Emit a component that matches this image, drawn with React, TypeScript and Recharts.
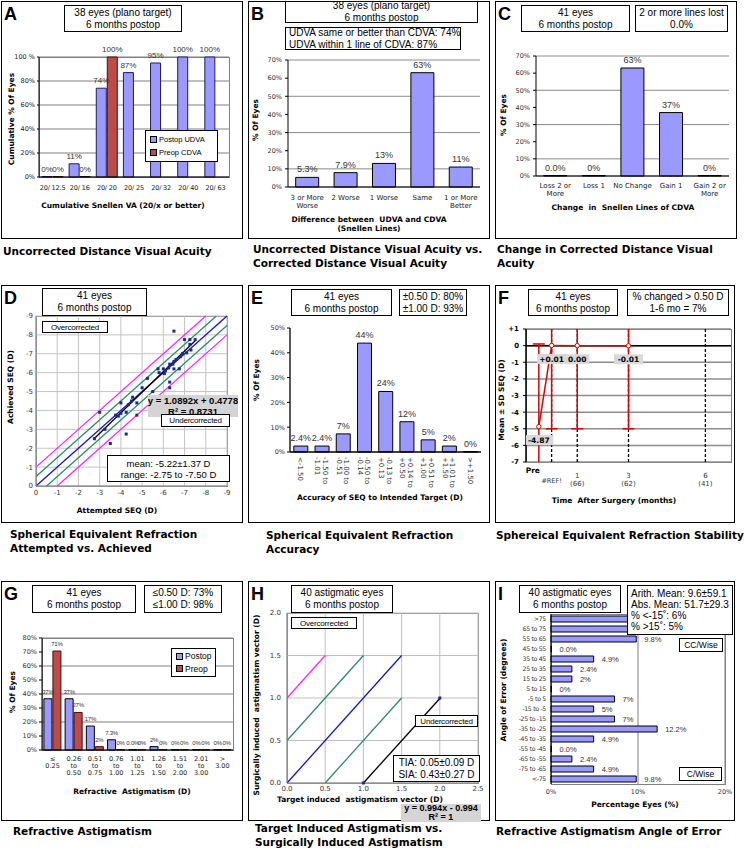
import React from 'react';
import {
  BarChart, Bar, XAxis, YAxis, CartesianGrid, LabelList,
  ScatterChart, Scatter, ReferenceLine, ComposedChart, Line, ErrorBar,
} from 'recharts';

const FONT_SANS = '"Liberation Sans", Arial, Helvetica, sans-serif';
const FONT_V = '"DejaVu Sans", Verdana, sans-serif';
const BLUE = '#9999FF';
const RED = '#BE4B48';
const GREEN = '#2E8B6A';
const MAGENTA = '#FF22FF';
const DIAG_BLUE = '#1414D2';
const SERIES_RED = '#E00000';

/* ---------------- DATA ---------------- */
// A: cumulative Snellen VA
const aCategories = ['20/ 12.5', '20/ 16', '20/ 20', '20/ 25', '20/ 32', '20/ 40', '20/ 63'];
const aPostopUdva = [0, 11, 74, 87, 95, 100, 100];
const aPreopCdva: (number | null)[] = [0, 0, 100, null, null, null, null];
const aPostopLabels = ['0%', '11%', '74%', '87%', '95%', '100%', '100%'];
const aPreopLabels = ['0%', '0%', '100%', '', '', '', ''];
const aYTicks = [0, 20, 40, 60, 80, 100];

// B: UDVA vs CDVA
const bCategories = ['3 or More\nWorse', '2 Worse', '1 Worse', 'Same', '1 or More\nBetter'];
const bValues = [5.3, 7.9, 13, 63, 11];
const bLabels = ['5.3%', '7.9%', '13%', '63%', '11%'];
const yTicks70 = [0, 10, 20, 30, 40, 50, 60, 70];

// C: change in CDVA
const cCategories = ['Loss 2 or\nMore', 'Loss 1', 'No Change', 'Gain 1', 'Gain 2 or\nMore'];
const cValues = [0, 0, 63, 37, 0];
const cLabels = ['0.0%', '0%', '63%', '37%', '0%'];

// D: attempted vs achieved SEQ
const dAttempted = [-2.75, -3.0, -3.25, -3.5, -3.75, -3.88, -4.0, -4.0, -4.25, -4.25, -4.35, -4.5, -4.55, -4.75, -4.75, -5.0, -5.25, -5.5, -5.75, -5.8, -6.0, -6.05, -6.1, -6.25, -6.3, -6.3, -6.3, -6.45, -6.5, -6.5, -6.5, -6.6, -6.75, -6.8, -6.9, -7.0, -7.1, -7.25, -7.25, -7.3, -7.5];
const dAchieved = [-2.5, -3.9, -3.0, -2.25, -3.75, -3.7, -4.4, -3.85, -3.9, -2.75, -4.3, -4.5, -4.7, -4.4, -3.75, -5.2, -5.7, -5.0, -6.2, -6.0, -6.2, -5.95, -6.1, -6.25, -6.45, -5.5, -5.2, -6.45, -6.6, -6.2, -8.2, -6.7, -6.2, -6.85, -7.0, -7.75, -7.05, -7.5, -7.75, -7.2, -7.75];
const dTicks = [0, -1, -2, -3, -4, -5, -6, -7, -8, -9];
const dIdentity = [[0, 0], [-9, -9]];
const dGreenLines = [[[0, -0.5], [-8.5, -9]], [[-0.5, 0], [-9, -8.5]]];
const dMagentaLines = [[[0, -1], [-8, -9]], [[-1, 0], [-9, -8]]];
const dFitSlope = 1.0892;
const dFitIntercept = 0.4778;
const dFitRange = [-2.75, -7.5];

// E: SEQ accuracy
const eCategories = ['<-1.50', '-1.50 to\n-1.01', '-1.00 to\n-0.51', '-0.50 to\n-0.14', '-0.13 to\n+0.13', '+0.14 to\n+0.50', '+0.51 to\n+1.00', '+1.01 to\n+1.50', '>+1.50'];
const eValues = [2.4, 2.4, 7.3, 43.9, 24.4, 12.2, 4.9, 2.4, 0];
const eLabels = ['2.4%', '2.4%', '7%', '44%', '24%', '12%', '5%', '2%', '0%'];
const eYTicks = [0, 10, 20, 30, 40, 50];

// F: SEQ stability
const fTimes = [-0.5, 0, 1, 3];
const fMeans = [-4.87, 0.01, 0.0, -0.01];
const fSDs = [4.97, 5.01, 5.0, 4.99];
const fLabels = ['-4.87', '+0.01', '0.00', '-0.01'];
const fTickValues = [-0.5, 0, 1, 3, 6];
const fTickLabels = ['Pre', '#REF!', '1\n(66)', '3\n(62)', '6\n(41)'];
const fYTicks = [1, 0, -1, -2, -3, -4, -5, -6, -7];
const fDashedMonths = [0, 1, 3, 6];

// G: refractive astigmatism
const gCategories = ['≤\n0.25', '0.26\nto\n0.50', '0.51\nto\n0.75', '0.76\nto\n1.00', '1.01\nto\n1.25', '1.26\nto\n1.50', '1.51\nto\n2.00', '2.01\nto\n3.00', '>\n3.00'];
const gPostop = [36.6, 36.6, 17.1, 7.3, 0, 2.4, 0, 0, 0];
const gPreop = [70.7, 26.8, 2.4, 0, 0, 0, 0, 0, 0];
const gPostopLabels = ['37%', '37%', '17%', '7.3%', '0.0%', '2%', '0%', '0%', '0%'];
const gPreopLabels = ['71%', '27%', '2%', '0%', '0%', '0%', '0%', '0%', '0%'];
const gYTicks = [0, 10, 20, 30, 40, 50, 60, 70, 80];

// H: TIA vs SIA
const hPoints = [{ x: 1.0, y: 0.0 }, { x: 2.0, y: 1.0 }];
const hXTicks = [0, 0.5, 1, 1.5, 2, 2.5];
const hYTicks = [0, 0.5, 1, 1.5, 2];
const hIdentity = [[0, 0], [1.5, 1.5]];
const hGreenLines = [[[0, 0.5], [1, 1.5]], [[0.5, 0], [1.5, 1.0]]];
const hMagentaLine = [[0, 1], [0.5, 1.5]];
const hFitSlope = 0.994;
const hFitIntercept = -0.994;
const hFitRange = [1.0, 2.0];

// I: angle of error (labels of the two top rows are hidden by the stats box in the original)
const iCategories = ['>75', '65 to 75', '55 to 65', '45 to 55', '35 to 45', '25 to 35', '15 to 25', '5 to 15', '-5 to 5', '-15 to -5', '-25 to -15', '-35 to -25', '-45 to -35', '-55 to -45', '-65 to -55', '-75 to -65', '<-75'];
const iValues = [14.6, 12.2, 9.8, 0, 4.9, 2.4, 2.4, 0, 7.3, 4.9, 7.3, 12.2, 4.9, 0, 2.4, 4.9, 9.8];
const iLabels = ['', '', '9.8%', '0.0%', '4.9%', '2.4%', '2%', '0%', '7%', '5%', '7%', '12.2%', '4.9%', '0.0%', '2.4%', '4.9%', '9.8%'];
const iXTicks = [0, 10, 20];

/* ---------------- TABLES ---------------- */
const aData = aCategories.map((cat, i) => ({ cat, udva: aPostopUdva[i], cdva: aPreopCdva[i], ul: aPostopLabels[i], cl: aPreopLabels[i] }));
const bData = bCategories.map((cat, i) => ({ cat, v: bValues[i], l: bLabels[i] }));
const cData = cCategories.map((cat, i) => ({ cat, v: cValues[i], l: cLabels[i] }));
const dData = dAttempted.map((x, i) => ({ x, y: dAchieved[i] }));
const eData = eCategories.map((cat, i) => ({ cat, v: eValues[i], l: eLabels[i] }));
const fData = fTimes.map((t, i) => ({ t, mean: fMeans[i], sd: fSDs[i], l: fLabels[i] }));
const gData = gCategories.map((cat, i) => ({ cat, post: gPostop[i], pre: gPreop[i], pl: gPostopLabels[i], rl: gPreopLabels[i] }));
const iData = iCategories.map((cat, i) => ({ cat, v: iValues[i], l: iLabels[i] }));

const seg = (pts: number[][]) => [{ x: pts[0][0], y: pts[0][1] }, { x: pts[1][0], y: pts[1][1] }];
const fitSeg = (range: number[], m: number, b: number) => [{ x: range[0], y: m * range[0] + b }, { x: range[1], y: m * range[1] + b }];

/* ---------------- LAYOUT HELPERS ---------------- */
type Rect = { x: number; y: number; w: number; h: number };
const M = { top: 18, right: 16, bottom: 6, left: 6 };
function frame(p: Rect, yw: number, xh: number) {
  return { left: p.x - yw - M.left, top: p.y - M.top, width: p.w + yw + M.left + M.right, height: p.h + M.top + M.bottom + xh };
}
function At({ f, children, z = 2 }: { f: { left: number; top: number; width: number; height: number }; children: React.ReactNode; z?: number }) {
  return <div style={{ position: 'absolute', left: f.left, top: f.top, width: f.width, height: f.height, zIndex: z }}>{children}</div>;
}
function PlotFrame({ p, color = '#808080' }: { p: Rect; color?: string }) {
  return <div style={{ position: 'absolute', left: p.x, top: p.y, width: p.w + 1, height: p.h + 1, border: `1px solid ${color}`, boxSizing: 'border-box', zIndex: 1 }} />;
}

function vb(p: any) {
  const v = p.viewBox || {};
  return { x: Number(p.x ?? v.x ?? 0), y: Number(p.y ?? v.y ?? 0), w: Number(p.width ?? v.width ?? 0), h: Number(p.height ?? v.height ?? 0) };
}
const topLabel = (size: number, dy: number, spacing = 0) => (p: any) => {
  if (p.value === '' || p.value == null) return null;
  const b = vb(p);
  return <text x={b.x + b.w / 2} y={b.y + dy} textAnchor="middle" fontSize={size} fill="#333" letterSpacing={spacing} fontFamily={FONT_SANS}>{p.value}</text>;
};
const rightLabel = (p: any) => {
  if (p.value === '' || p.value == null) return null;
  const b = vb(p);
  return <text x={b.x + b.w + 8} y={b.y + b.h / 2 + 3} fontSize={7.5} fill="#333" fontFamily={FONT_SANS}>{p.value}</text>;
};
const multiTick = (size: number, lh: number, firstDy: number, weight = 400, spacing = 0) => (p: any) => {
  const { x, y, payload } = p;
  const lines = String(payload.value).split('\n');
  return (
    <text x={x} y={y + firstDy} textAnchor="middle" fontSize={size} fill="#222" fontWeight={weight} letterSpacing={spacing} fontFamily={FONT_V}>
      {lines.map((s, i) => <tspan key={i} x={x} dy={i === 0 ? 0 : lh}>{s}</tspan>)}
    </text>
  );
};
const eTick = (p: any) => {
  const { x, y, payload } = p;
  const lines = String(payload.value).split('\n');
  const base = lines.length === 1 ? 2.5 : -1;
  return (
    <g transform={`translate(${x},${y})`}>
      <text transform="rotate(90)" fontSize={7} fill="#333" fontFamily={FONT_V}>
        {lines.map((s, i) => <tspan key={i} x={0} y={base + i * 7.5}>{s}</tspan>)}
      </text>
    </g>
  );
};
const iTick = (p: any) => (
  <text x={p.x} y={p.y + 2.3} textAnchor="end" fontSize={6.2} fill="#333" fontFamily={FONT_V} letterSpacing={-0.3}>{p.payload.value}</text>
);
const fTick = (p: any) => {
  const { x, y, payload } = p;
  const idx = fTickValues.indexOf(payload.value);
  const label = idx >= 0 ? fTickLabels[idx] : '';
  if (idx === 0) return <text x={x - 6} y={y + 10.5} textAnchor="middle" fontSize={7.5} fontWeight={700} fill="#000" fontFamily={FONT_V}>{label}</text>;
  if (idx === 1) return <text x={x} y={y + 20.5} textAnchor="middle" fontSize={6.5} fill="#333" fontFamily={FONT_V}>{label}</text>;
  const lines = label.split('\n');
  return (
    <text x={x} y={y + 16} textAnchor="middle" fontSize={7} fill="#333" fontFamily={FONT_V}>
      {lines.map((s, i) => <tspan key={i} x={x} dy={i === 0 ? 0 : 7.5}>{s}</tspan>)}
    </text>
  );
};
const fLabel = (p: any) => {
  const b = vb(p);
  const s = String(p.value);
  const w = s.length * 4.8 + 5;
  return (
    <g>
      <rect x={b.x - w / 2} y={b.y + 8.5} width={w} height={10} fill="#D9D9D9" />
      <text x={b.x} y={b.y + 16.5} textAnchor="middle" fontSize={7.5} fontWeight={700} fill="#000" fontFamily={FONT_V}>{s}</text>
    </g>
  );
};
const smallSquare = (color: string) => (p: any) => <rect x={p.cx - 1.5} y={p.cy - 1.5} width={3} height={3} fill={color} />;
const tk = (size = 7, fill = '#333', weight = 400) => ({ fontSize: size, fill, fontFamily: FONT_V, fontWeight: weight });

function Box(props: { l: number; t: number; r: number; b: number; lines: string[]; size?: number; align?: 'center' | 'left'; bold?: boolean; bg?: string; border?: string; lh?: number; pad?: number; spacing?: number }) {
  const { l, t, r, b, lines, size = 10, align = 'center', bold = false, bg = '#fff', border = '1.5px solid #000', lh, pad = 3, spacing = 0 } = props;
  return (
    <div style={{ position: 'absolute', left: l, top: t, width: r - l, height: b - t, boxSizing: 'border-box', border, background: bg, display: 'flex', flexDirection: 'column', justifyContent: 'center', alignItems: align === 'center' ? 'center' : 'flex-start', paddingLeft: pad, paddingRight: pad, fontFamily: FONT_SANS, fontSize: size, fontWeight: bold ? 700 : 400, lineHeight: `${lh ?? Math.round(size * 1.15)}px`, whiteSpace: 'nowrap', letterSpacing: spacing, color: '#000', zIndex: 5, overflow: 'hidden' }}>
      {lines.map((s, i) => <div key={i}>{s}</div>)}
    </div>
  );
}
function LegendBox({ l, t, r, b, items, size }: { l: number; t: number; r: number; b: number; items: { label: string; color: string }[]; size: number }) {
  return (
    <div style={{ position: 'absolute', left: l, top: t, width: r - l, height: b - t, boxSizing: 'border-box', border: '1.5px solid #000', background: '#fff', display: 'flex', flexDirection: 'column', justifyContent: 'space-evenly', paddingLeft: 4, fontFamily: FONT_SANS, fontSize: size, zIndex: 5 }}>
      {items.map((it) => (
        <div key={it.label} style={{ display: 'flex', alignItems: 'center', whiteSpace: 'nowrap' }}>
          <span style={{ display: 'inline-block', width: 5, height: 5, background: it.color, border: '1px solid #000', marginRight: 2 }} />
          {it.label}
        </div>
      ))}
    </div>
  );
}
function Title({ cx, cy, text, size = 7.5, rotate = false }: { cx: number; cy: number; text: string; size?: number; rotate?: boolean }) {
  return (
    <div style={{ position: 'absolute', left: cx, top: cy, transform: `translate(-50%,-50%)${rotate ? ' rotate(-90deg)' : ''}`, fontFamily: FONT_V, fontWeight: 700, fontSize: size, whiteSpace: 'pre', lineHeight: `${size + 1.5}px`, textAlign: 'center', zIndex: 4, color: '#000' }}>{text}</div>
  );
}
function Caption({ x, y, lines }: { x: number; y: number; lines: string[] }) {
  return (
    <div style={{ position: 'absolute', left: x, top: y - 7, fontFamily: FONT_V, fontWeight: 700, fontSize: 10.5, lineHeight: '13.5px', whiteSpace: 'nowrap', color: '#000' }}>
      {lines.map((s, i) => <div key={i}>{s}</div>)}
    </div>
  );
}
function Panel({ l, t, w, h, letter }: { l: number; t: number; w: number; h: number; letter: string }) {
  return (
    <>
      <div style={{ position: 'absolute', left: l, top: t, width: w, height: h, border: '1.5px solid #000', boxSizing: 'border-box' }} />
      <div style={{ position: 'absolute', left: l + 3, top: t + 3.5, fontFamily: FONT_SANS, fontWeight: 700, fontSize: 18, lineHeight: '18px', zIndex: 6 }}>{letter}</div>
    </>
  );
}

/* ---------------- CHARTS ---------------- */
const aPlot = { x: 39, y: 57, w: 190, h: 120 };
const bPlot = { x: 288, y: 60, w: 192, h: 127 };
const cPlot = { x: 536, y: 56, w: 193, h: 120 };
const dPlot = { x: 36, y: 316, w: 191, h: 170 };
const ePlot = { x: 290, y: 328, w: 191, h: 124 };
const fPlot = { x: 526, y: 329, w: 205, h: 133 };
const gPlot = { x: 42, y: 638, w: 191, h: 112 };
const hPlot = { x: 287, y: 613, w: 191, h: 170 };
const iPlot = { x: 551, y: 614, w: 174, h: 170 };

function ChartA() {
  const f = frame(aPlot, 28, 20);
  return (
    <At f={f}>
      <BarChart width={f.width} height={f.height} margin={M} data={aData} barCategoryGap="11%" barGap={1}>
        <CartesianGrid vertical={false} stroke="#808080" />
        <XAxis dataKey="cat" height={20} interval={0} tick={multiTick(6.5, 8, 7.5, 400, -0.15)} axisLine={{ stroke: '#000' }} tickLine={false} tickSize={3} tickMargin={2} />
        <YAxis width={28} domain={[0, 100]} ticks={aYTicks} tickFormatter={(v: number) => (v === 100 ? '100\u00a0%' : `${v}%`)} tick={tk(6.5, '#222', 400)} axisLine={{ stroke: '#000' }} tickLine={{ stroke: '#000' }} tickSize={2} tickMargin={2} />
        <Bar dataKey="udva" fill={BLUE} stroke="#1E1E5A" strokeWidth={1} minPointSize={0.5} isAnimationActive={false}>
          <LabelList dataKey="ul" content={topLabel(8, -5)} />
        </Bar>
        <Bar dataKey="cdva" fill={RED} stroke="#3A1414" strokeWidth={1} minPointSize={0.5} isAnimationActive={false}>
          <LabelList dataKey="cl" content={topLabel(8, -5)} />
        </Bar>
      </BarChart>
    </At>
  );
}

function SimpleBars({ plot, data, gap, yTicks, firstDy, lh }: { plot: Rect; data: any[]; gap: string; yTicks: number[]; firstDy: number; lh: number }) {
  const f = frame(plot, 28, 26);
  return (
    <At f={f}>
      <BarChart width={f.width} height={f.height} margin={M} data={data} barCategoryGap={gap}>
        <CartesianGrid vertical={false} stroke="#8C8C8C" />
        <XAxis dataKey="cat" height={26} interval={0} tick={multiTick(7, lh, firstDy)} axisLine={{ stroke: '#000' }} tickLine={false} tickSize={3} tickMargin={2} />
        <YAxis width={28} domain={[0, yTicks[yTicks.length - 1]]} ticks={yTicks} tickFormatter={(v: number) => `${v}%`} tick={tk(6.5)} axisLine={{ stroke: '#000' }} tickLine={{ stroke: '#000' }} tickSize={3} tickMargin={3} />
        <Bar dataKey="v" fill={BLUE} stroke="#000" strokeWidth={1} minPointSize={0.5} isAnimationActive={false}>
          <LabelList dataKey="l" content={topLabel(9, -5)} />
        </Bar>
      </BarChart>
    </At>
  );
}

function ChartD() {
  const f = frame(dPlot, 22, 14);
  return (
    <At f={f}>
      <ScatterChart width={f.width} height={f.height} margin={M}>
        <CartesianGrid stroke="#C4C4C4" />
        <XAxis type="number" dataKey="x" domain={[-9, 0]} reversed ticks={dTicks} interval={0} height={14} tick={tk(7)} axisLine={{ stroke: '#808080' }} tickLine={false} tickSize={2} tickMargin={2} />
        <YAxis type="number" dataKey="y" domain={[-9, 0]} reversed ticks={dTicks} interval={0} width={22} tick={tk(7)} axisLine={{ stroke: '#808080' }} tickLine={false} tickSize={1} tickMargin={2} />
        {dMagentaLines.map((l, i) => <ReferenceLine key={`m${i}`} segment={seg(l)} stroke={MAGENTA} strokeWidth={1.3} />)}
        {dGreenLines.map((l, i) => <ReferenceLine key={`g${i}`} segment={seg(l)} stroke={GREEN} strokeWidth={1.3} />)}
        <ReferenceLine segment={seg(dIdentity)} stroke={DIAG_BLUE} strokeWidth={1.3} />
        <ReferenceLine segment={fitSeg(dFitRange, dFitSlope, dFitIntercept)} stroke="#000" strokeWidth={1.3} />
        <Scatter data={dData} shape={smallSquare('#1A2A8A')} isAnimationActive={false} />
      </ScatterChart>
    </At>
  );
}

function ChartE() {
  const f = frame(ePlot, 28, 30);
  return (
    <At f={f}>
      <BarChart width={f.width} height={f.height} margin={M} data={eData} barCategoryGap="18%">
        <XAxis dataKey="cat" height={30} interval={0} tick={eTick} axisLine={{ stroke: '#000', strokeWidth: 1.3 }} tickLine={false} tickSize={3} tickMargin={2} />
        <YAxis width={28} domain={[0, 50]} ticks={eYTicks} tickFormatter={(v: number) => `${v}%`} tick={tk(6.5)} axisLine={{ stroke: '#000', strokeWidth: 1.3 }} tickLine={{ stroke: '#000' }} tickSize={3} tickMargin={2} />
        <Bar dataKey="v" fill={BLUE} stroke="#000" strokeWidth={1} minPointSize={0.5} isAnimationActive={false}>
          <LabelList dataKey="l" content={topLabel(9, -5)} />
        </Bar>
      </BarChart>
    </At>
  );
}

function ChartF() {
  const f = frame(fPlot, 26, 34);
  return (
    <>
      <At f={f}>
        <ComposedChart width={f.width} height={f.height} margin={M} data={fData}>
          <CartesianGrid vertical={false} stroke="#8C8C8C" strokeWidth={1.5} />
          <XAxis type="number" dataKey="t" domain={[-1, 7]} ticks={fTickValues} interval={0} height={34} tick={fTick} axisLine={false} tickLine={false} tickSize={0} tickMargin={0} allowDataOverflow />
          <YAxis type="number" domain={[-7, 1]} ticks={fYTicks} interval={0} width={26} allowDataOverflow tickFormatter={(v: number) => (v > 0 ? `+${v}` : `${v}`)} tick={tk(7, '#000', 700)} axisLine={{ stroke: '#000', strokeWidth: 1.5 }} tickLine={{ stroke: '#000' }} tickSize={3} tickMargin={4} />
          {fDashedMonths.map((m) => <ReferenceLine key={m} x={m} stroke="#000" strokeDasharray="3 2" strokeWidth={1.3} />)}
          <ReferenceLine y={0} stroke="#000" strokeWidth={1.5} />
        </ComposedChart>
      </At>
      {/* the series layer, clipped to the plot area like the original */}
      <div style={{ position: 'absolute', left: fPlot.x, top: fPlot.y, width: fPlot.w, height: fPlot.h, overflow: 'hidden', zIndex: 3 }}>
        <div style={{ position: 'absolute', left: f.left - fPlot.x, top: f.top - fPlot.y, width: f.width, height: f.height }}>
          <ComposedChart width={f.width} height={f.height} margin={M} data={fData}>
            <XAxis type="number" dataKey="t" domain={[-1, 7]} ticks={fTickValues} height={34} tick={false} axisLine={false} tickLine={false} allowDataOverflow />
            <YAxis type="number" domain={[-7, 1]} ticks={fYTicks} width={26} tick={false} axisLine={false} tickLine={false} allowDataOverflow />
            <Line dataKey="mean" stroke={SERIES_RED} strokeWidth={1.5} isAnimationActive={false} dot={{ r: 2.2, stroke: SERIES_RED, strokeWidth: 1, fill: '#fff' }}>
              <ErrorBar dataKey="sd" width={6} stroke={SERIES_RED} strokeWidth={1.5} direction="y" isAnimationActive={false} />
              <LabelList dataKey="l" content={fLabel} />
            </Line>
          </ComposedChart>
        </div>
      </div>
    </>
  );
}

function ChartG() {
  const f = frame(gPlot, 28, 30);
  return (
    <At f={f}>
      <BarChart width={f.width} height={f.height} margin={M} data={gData} barCategoryGap="9%" barGap={1}>
        <CartesianGrid vertical={false} stroke="#808080" />
        <XAxis dataKey="cat" height={30} interval={0} tick={multiTick(6.5, 7, 5.5)} axisLine={{ stroke: '#000' }} tickLine={false} tickSize={3} tickMargin={2} />
        <YAxis width={28} domain={[0, 80]} ticks={gYTicks} tickFormatter={(v: number) => `${v}%`} tick={tk(6.5)} axisLine={{ stroke: '#000' }} tickLine={{ stroke: '#000' }} tickSize={3} tickMargin={2} />
        <Bar dataKey="post" fill={BLUE} stroke="#000" strokeWidth={1} minPointSize={0.5} isAnimationActive={false}>
          <LabelList dataKey="pl" content={topLabel(6, -5, -0.2)} />
        </Bar>
        <Bar dataKey="pre" fill={RED} stroke="#3A1414" strokeWidth={1} minPointSize={0.5} isAnimationActive={false}>
          <LabelList dataKey="rl" content={topLabel(6, -5, -0.2)} />
        </Bar>
      </BarChart>
    </At>
  );
}

function ChartH() {
  const f = frame(hPlot, 26, 16);
  return (
    <At f={f}>
      <ScatterChart width={f.width} height={f.height} margin={M}>
        <CartesianGrid stroke="#BFBFBF" />
        <XAxis type="number" dataKey="x" domain={[0, 2.5]} ticks={hXTicks} interval={0} height={16} tickFormatter={(v: number) => v.toFixed(1)} tick={tk(7)} axisLine={{ stroke: '#808080' }} tickLine={false} tickSize={0} tickMargin={3} />
        <YAxis type="number" dataKey="y" domain={[0, 2]} ticks={hYTicks} interval={0} width={26} tickFormatter={(v: number) => v.toFixed(1)} tick={tk(7)} axisLine={{ stroke: '#808080' }} tickLine={false} tickSize={0} tickMargin={6} />
        <ReferenceLine segment={seg(hMagentaLine)} stroke={MAGENTA} strokeWidth={1.3} />
        {hGreenLines.map((l, i) => <ReferenceLine key={`g${i}`} segment={seg(l)} stroke={GREEN} strokeWidth={1.3} />)}
        <ReferenceLine segment={seg(hIdentity)} stroke={DIAG_BLUE} strokeWidth={1.3} />
        <ReferenceLine segment={fitSeg(hFitRange, hFitSlope, hFitIntercept)} stroke="#000" strokeWidth={1.3} />
        <Scatter data={hPoints} shape={smallSquare('#1A2A8A')} isAnimationActive={false} />
      </ScatterChart>
    </At>
  );
}

function ChartI() {
  const f = frame(iPlot, 46, 16);
  return (
    <At f={f}>
      <BarChart layout="vertical" width={f.width} height={f.height} margin={M} data={iData} barCategoryGap="20%">
        <CartesianGrid horizontal={false} stroke="#808080" />
        <XAxis type="number" domain={[0, 20]} ticks={iXTicks} interval={0} height={16} tickFormatter={(v: number) => `${v}%`} tick={tk(6.5)} axisLine={false} tickLine={false} tickSize={0} tickMargin={5} />
        <YAxis type="category" dataKey="cat" width={46} interval={0} tick={iTick} axisLine={{ stroke: '#000' }} tickLine={false} tickSize={0} tickMargin={5} />
        <Bar dataKey="v" fill={BLUE} stroke="#000" strokeWidth={1} minPointSize={0.5} isAnimationActive={false}>
          <LabelList dataKey="l" content={rightLabel} />
        </Bar>
      </BarChart>
    </At>
  );
}

/* ---------------- APP ---------------- */
export default function App() {
  return (
    <div style={{ position: 'absolute', left: 0, top: 0, width: 744, height: 850, background: '#fff', overflow: 'hidden', color: '#000' }}>
      <Panel l={1} t={1} w={242} h={238} letter="A" />
      <Panel l={248} t={1} w={242} h={238} letter="B" />
      <Panel l={495} t={1} w={242} h={238} letter="C" />
      <Panel l={1} t={285} w={242} h={238} letter="D" />
      <Panel l={248} t={285} w={242} h={238} letter="E" />
      <Panel l={495} t={285} w={240} h={238} letter="F" />
      <Panel l={1} t={581} w={242} h={240} letter="G" />
      <Panel l={248} t={581} w={242} h={240} letter="H" />
      <Panel l={495} t={581} w={240} h={240} letter="I" />

      <PlotFrame p={aPlot} />
      <PlotFrame p={dPlot} />
      <PlotFrame p={fPlot} />
      <PlotFrame p={gPlot} />
      <PlotFrame p={hPlot} />
      <PlotFrame p={iPlot} />

      <ChartA />
      <SimpleBars plot={bPlot} data={bData} gap="20%" yTicks={yTicks70} firstDy={7.5} lh={8} />
      <SimpleBars plot={cPlot} data={cData} gap="20%" yTicks={yTicks70} firstDy={7} lh={7.5} />
      <ChartD />
      <ChartE />
      <ChartF />
      <ChartG />
      <ChartH />
      <ChartI />

      {/* A */}
      <Box l={64} t={5} r={182} b={32} lines={['38 eyes (plano target)', '6 months postop']} />
      <LegendBox l={145} t={130} r={218} b={162} size={7.5} items={[{ label: 'Postop UDVA', color: BLUE }, { label: 'Preop CDVA', color: RED }]} />
      <Title cx={11} cy={119} text="Cumulative % Of Eyes" rotate />
      <Title cx={123} cy={205} text="Cumulative Snellen VA (20/x or better)" />
      <Caption x={3} y={252} lines={['Uncorrected  Distance Visual Acuity']} />

      {/* B */}
      <Box l={285} t={1} r={478} b={23} lines={['38 eyes (plano target)', '6 months postop']} />
      <Box l={285} t={27} r={461} b={50} align="left" lines={['UDVA same or better than CDVA: 74%', 'UDVA within 1 line of CDVA: 87%']} />
      <Title cx={255} cy={120} text="% Of Eyes" rotate />
      <Title cx={369} cy={224} text={'Difference between  UDVA and CDVA\n(Snellen Lines)'} />
      <Caption x={253} y={250} lines={['Uncorrected  Distance Visual Acuity vs.', 'Corrected Distance Visual Acuity']} />

      {/* C */}
      <Box l={521} t={5} r={630} b={32} lines={['41 eyes', '6 months postop']} />
      <Box l={635} t={5} r={728} b={32} lines={['2 or more lines lost', '0.0%']} />
      <Title cx={503} cy={115} text="% Of Eyes" rotate />
      <Title cx={623} cy={207} text="Change  in  Snellen Lines of CDVA" />
      <Caption x={497} y={250} lines={['Change in Corrected  Distance Visual', 'Acuity']} />

      {/* D */}
      <Box l={42} t={288} r={147} b={316} lines={['41 eyes', '6 months postop']} />
      <Box l={42} t={321} r={108} b={333} size={8} spacing={-0.2} lines={['Overcorrected']} />
      <Box l={148} t={395} r={238} b={417} bold size={9.5} border="none" bg="#D4D4D4" lh={11} lines={['y = 1.0892x + 0.4778', 'R² = 0.8731']} />
      <Box l={161} t={414} r={230} b={427} size={8} spacing={-0.2} lines={['Undercorrected']} />
      <Box l={107} t={455} r={230} b={482} size={9.5} lines={['mean: -5.22±1.37 D', 'range: -2.75 to -7.50 D']} />
      <Title cx={10} cy={387} text="Achieved SEQ (D)" rotate />
      <Title cx={117} cy={510} text="Attempted SEQ (D)" />
      <Caption x={10} y={535} lines={['Spherical Equivalent Refraction', 'Attempted vs. Achieved']} />

      {/* E */}
      <Box l={291} t={289} r={392} b={316} lines={['41 eyes', '6 months postop']} />
      <Box l={399} t={289} r={467} b={316} lines={['±0.50 D: 80%', '±1.00 D: 93%']} />
      <Title cx={256} cy={380} text="% Of Eyes" rotate />
      <Title cx={380} cy={497} text="Accuracy of SEQ to Intended Target (D)" />
      <Caption x={266} y={536} lines={['Spherical Equivalent Refraction', 'Accuracy']} />

      {/* F */}
      <Box l={528} t={289} r={618} b={316} lines={['41 eyes', '6 months postop']} />
      <Box l={627} t={289} r={729} b={316} lines={['% changed > 0.50 D', '1-6 mo = 7%']} />
      <Title cx={501} cy={400} text="Mean ± SD SEQ (D)" rotate />
      <Title cx={614} cy={500} text="Time  After Surgery (months)" />
      <Caption x={496} y={536} lines={['Sphereical Equivalent Refraction Stability']} />

      {/* G */}
      <Box l={32} t={585} r={136} b={613} lines={['41 eyes', '6 months postop']} />
      <Box l={144} t={585} r={222} b={613} lines={['≤0.50 D: 73%', '≤1.00 D: 98%']} />
      <LegendBox l={171} t={648} r={216} b={677} size={8.5} items={[{ label: 'Postop', color: BLUE }, { label: 'Preop', color: RED }]} />
      <Title cx={12} cy={692} text="% Of Eyes" rotate />
      <Title cx={132} cy={791} text="Refractive  Astigmatism (D)" />
      <Caption x={13} y={832} lines={['Refractive  Astigmatism']} />

      {/* H */}
      <Box l={291} t={585} r={393} b={613} lines={['40 astigmatic eyes', '6 months postop']} />
      <Box l={291} t={617} r={357} b={629} size={8} spacing={-0.2} lines={['Overcorrected']} />
      <Box l={415} t={715} r={478} b={727} size={8} spacing={-0.2} lines={['Undercorrected']} />
      <Box l={393} t={755} r={480} b={782} lines={['TIA: 0.05±0.09 D', 'SIA: 0.43±0.27 D']} />
      <Title cx={256} cy={705} text="Surgically induced  astigmatism vector (D)" rotate />
      <Title cx={360} cy={799} text="Target induced  astigmatism vector (D)" />
      <Box l={401} t={804} r={481} b={822} bold size={9} border="none" bg="#D4D4D4" lh={9} lines={['y = 0.994x - 0.994', 'R² = 1']} />
      <Caption x={255} y={829} lines={['Target Induced Astigmatism vs.', 'Surgically Induced Astigmatism']} />

      {/* I */}
      <Box l={519} t={585} r={621} b={613} lines={['40 astigmatic eyes', '6 months postop']} />
      <Box l={627} t={585} r={733} b={635} align="left" lh={11} lines={['Arith. Mean: 9.6±59.1', 'Abs. Mean: 51.7±29.3', '% <-15˚: 6%', '% >15˚: 5%']} />
      <Box l={679} t={638} r={723} b={652} size={8.5} lines={['CC/Wise']} />
      <Box l={679} t={767} r={722} b={781} size={8.5} lines={['C/Wise']} />
      <Title cx={503} cy={690} text="Angle of Error (degrees)" rotate />
      <Title cx={635} cy={804} text="Percentage Eyes (%)" />
      <Caption x={496} y={832} lines={['Refractive  Astigmatism Angle of Error']} />
    </div>
  );
}
